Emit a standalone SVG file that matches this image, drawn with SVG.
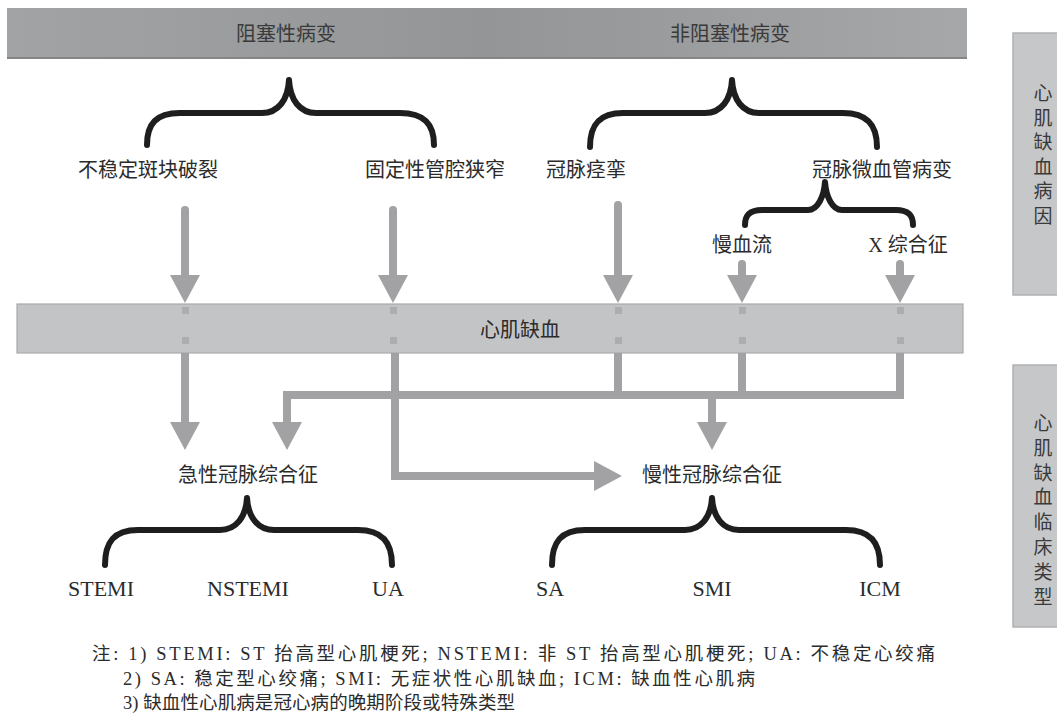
<svg xmlns="http://www.w3.org/2000/svg" width="1057" height="717" viewBox="0 0 1057 717">
<style>
text{font-family:"Liberation Serif","Noto Sans CJK SC",serif;fill:#2b2b2b;}
.lbl{font-size:20px;text-anchor:middle;}
.lat{font-size:22px;text-anchor:middle;}
.note{font-size:18.5px;}
.vt{font-size:19px;text-anchor:middle;fill:#3a3a3a;}
.brace{fill:none;stroke:#1e1e1e;stroke-width:6;stroke-linecap:round;stroke-linejoin:round;}
.conn{fill:none;stroke:#a2a2a4;stroke-width:8;}
.cap{stroke-linecap:round;}
.dot{fill:#acadaf;}
</style>
<defs>
<linearGradient id="topg" x1="0" y1="0" x2="1" y2="0">
<stop offset="0" stop-color="#a2a3a5"/>
<stop offset="0.5" stop-color="#949597"/>
<stop offset="1" stop-color="#a6a7a9"/>
</linearGradient>
<marker id="ah" markerUnits="userSpaceOnUse" markerWidth="30" markerHeight="30" refX="8" refY="15" orient="auto">
<path d="M0,0 L28,15 L0,30 Z" fill="#a2a2a4"/>
</marker>
</defs>

<g id="top-bar">
<rect x="7" y="8" width="960" height="51" fill="url(#topg)"/>
<rect x="7" y="57" width="960" height="2" fill="#858688"/>
<text class="lbl" x="286" y="41" style="fill:#3a3a3a">阻塞性病变</text>
<text class="lbl" x="730" y="41" style="fill:#3a3a3a">非阻塞性病变</text>
</g>

<g id="side-cause">
<rect x="1013" y="33" width="50" height="262" fill="#c6c7c9" stroke="#b0b1b3" stroke-width="1.5"/>
<text class="vt" x="1043" y="100"><tspan x="1043" dy="0">心</tspan><tspan x="1043" dy="24.5">肌</tspan><tspan x="1043" dy="24.5">缺</tspan><tspan x="1043" dy="24.5">血</tspan><tspan x="1043" dy="24.5">病</tspan><tspan x="1043" dy="24.5">因</tspan></text>
</g>

<g id="side-type">
<rect x="1013" y="365" width="50" height="262" fill="#c6c7c9" stroke="#b0b1b3" stroke-width="1.5"/>
<text class="vt" x="1043" y="430"><tspan x="1043" dy="0">心</tspan><tspan x="1043" dy="24.8">肌</tspan><tspan x="1043" dy="24.8">缺</tspan><tspan x="1043" dy="24.8">血</tspan><tspan x="1043" dy="24.8">临</tspan><tspan x="1043" dy="24.8">床</tspan><tspan x="1043" dy="24.8">类</tspan><tspan x="1043" dy="24.8">型</tspan></text>
</g>

<g id="braces">
<path class="brace" d="M147,145 C147,124 156,113 180,113 L262,113 C278,113 288,100 289,80 C290,100 300,113 316,113 L400,113 C424,113 434,124 434,145"/>
<path class="brace" d="M590,147 C590,125 599,113 623,113 L705,113 C721,113 731,100 732,80 C733,100 743,113 759,113 L843,113 C867,113 877,125 877,147"/>
<path class="brace" d="M745,225 C745,215 750,210 762,210 L808,210 C818,210 824,196 825,182 C826,196 832,210 842,210 L896,210 C908,210 913,215 913,225"/>
<path class="brace" d="M105,565 C105,542 114,530 138,530 L220,530 C236,530 246,517 247,498 C248,517 258,530 274,530 L358,530 C382,530 392,542 392,565"/>
<path class="brace" d="M552,565 C552,542 561,530 585,530 L685,530 C701,530 711,517 712,498 C713,517 723,530 739,530 L846,530 C870,530 880,542 880,565"/>
</g>

<g id="ischemia-bar">
<rect x="17" y="304" width="946" height="49" fill="#c3c4c6" stroke="#a9aaac" stroke-width="1.2"/>
<text class="lbl" x="520" y="337">心肌缺血</text>
</g>

<g id="connectors">
<path class="conn cap" d="M185,210 V283" marker-end="url(#ah)"/>
<path class="conn cap" d="M393,210 V283" marker-end="url(#ah)"/>
<path class="conn cap" d="M618,205 V283" marker-end="url(#ah)"/>
<path class="conn cap" d="M742,264 V283" marker-end="url(#ah)"/>
<path class="conn cap" d="M900,264 V283" marker-end="url(#ah)"/>
<path class="conn" d="M185,353 V430" marker-end="url(#ah)"/>
<path class="conn" d="M395,353 V476 H602" marker-end="url(#ah)"/>
<path class="conn" d="M900,353 V395 H287 V430" marker-end="url(#ah)"/>
<path class="conn" d="M618,353 V395"/>
<path class="conn" d="M742,353 V395"/>
<path class="conn" d="M712,395 V430" marker-end="url(#ah)"/>
<g class="dot">
<rect x="182" y="307" width="7" height="7"/><rect x="182" y="337" width="7" height="7"/>
<rect x="390" y="307" width="7" height="7"/><rect x="390" y="337" width="7" height="7"/>
<rect x="615" y="307" width="7" height="7"/><rect x="615" y="337" width="7" height="7"/>
<rect x="739" y="307" width="7" height="7"/><rect x="739" y="337" width="7" height="7"/>
<rect x="897" y="307" width="7" height="7"/><rect x="897" y="337" width="7" height="7"/>
</g>
</g>

<g id="n-unstable"><text class="lbl" x="148" y="177">不稳定斑块破裂</text></g>
<g id="n-fixed"><text class="lbl" x="435" y="177">固定性管腔狭窄</text></g>
<g id="n-spasm"><text class="lbl" x="586" y="177">冠脉痉挛</text></g>
<g id="n-micro"><text class="lbl" x="882" y="177">冠脉微血管病变</text></g>
<g id="n-slow"><text class="lbl" x="742" y="252">慢血流</text></g>
<g id="n-x"><text class="lbl" x="908" y="252">X 综合征</text></g>
<g id="n-acs"><text class="lbl" x="248" y="482">急性冠脉综合征</text></g>
<g id="n-ccs"><text class="lbl" x="712" y="482">慢性冠脉综合征</text></g>
<g id="n-stemi"><text class="lat" x="101" y="596">STEMI</text></g>
<g id="n-nstemi"><text class="lat" x="248" y="596">NSTEMI</text></g>
<g id="n-ua"><text class="lat" x="388" y="596">UA</text></g>
<g id="n-sa"><text class="lat" x="550" y="596">SA</text></g>
<g id="n-smi"><text class="lat" x="712" y="596">SMI</text></g>
<g id="n-icm"><text class="lat" x="880" y="596">ICM</text></g>

<g id="notes">
<text class="note" x="92" y="660" textLength="843" lengthAdjust="spacing">注: 1) STEMI: ST 抬高型心肌梗死; NSTEMI: 非 ST 抬高型心肌梗死; UA: 不稳定心绞痛</text>
<text class="note" x="123" y="685" textLength="632" lengthAdjust="spacing">2) SA: 稳定型心绞痛; SMI: 无症状性心肌缺血; ICM: 缺血性心肌病</text>
<text class="note" x="123" y="709" textLength="392" lengthAdjust="spacing">3) 缺血性心肌病是冠心病的晚期阶段或特殊类型</text>
</g>
</svg>
